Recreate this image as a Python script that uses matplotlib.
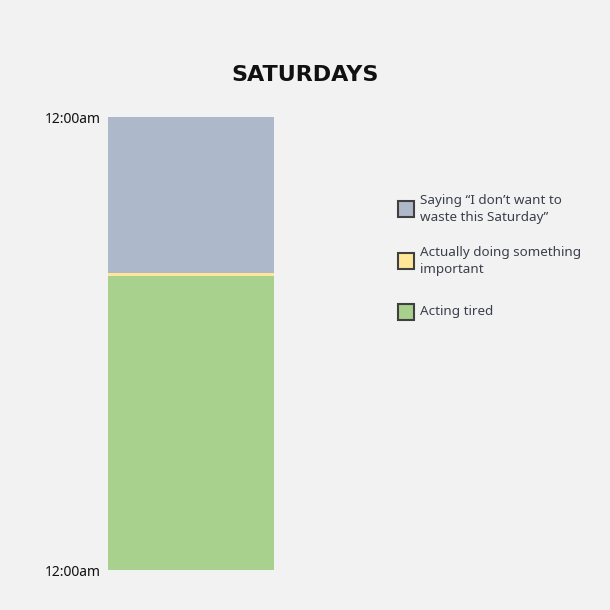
import matplotlib.pyplot as plt
import matplotlib.patches as mpatches

# data: hours of a Saturday, stacked top (midnight) to bottom (midnight)
activities = ['Saying \u201cI don\u2019t want to\nwaste this Saturday\u201d',
              'Actually doing something\nimportant',
              'Acting tired']
hours = [8.25, 0.15, 15.6]
colours = ['#adb8ca', '#ffe699', '#a9d18e']
tick_hours = [0, 24]
tick_labels = ['12:00am', '12:00am']

bg = '#f2f2f2'
txt = '#3b3f4c'
plt.rcParams['font.family'] = ['Noto Sans', 'DejaVu Sans']

fig = plt.figure(figsize=(6.1, 6.1), dpi=100, facecolor=bg)
ax = fig.add_axes([108 / 610, 40 / 610, 166 / 610, 453 / 610])
ax.set_facecolor(bg)

bottom = 0
for h, c in zip(hours, colours):
    ax.bar(0, h, bottom=bottom, width=1, color=c, edgecolor='none')
    bottom += h

ax.set_xlim(-0.5, 0.5)
ax.set_ylim(24, 0)
ax.set_yticks(tick_hours)
ax.set_yticklabels(tick_labels, fontsize=10, color='#111111')
ax.tick_params(axis='y', length=0, pad=5)
ax.set_xticks([])
for s in ax.spines.values():
    s.set_visible(False)

fig.text(0.5, 1 - 75 / 610, 'SATURDAYS', ha='center', va='center',
         fontsize=16, fontweight='bold', color='#111111', family='DejaVu Sans')

# legend drawn by hand
leg_y = [209, 261, 312]
for label, c, y in zip(activities, colours, leg_y):
    fig.patches.append(mpatches.Rectangle((398 / 610, 1 - (y + 8) / 610), 16 / 610, 16 / 610,
                                          facecolor=c, edgecolor='#404040', linewidth=1.5,
                                          transform=fig.transFigure))
    fig.text(420 / 610, 1 - y / 610, label, ha='left', va='center',
             fontsize=9.7, color=txt, linespacing=1.4)

fig.savefig('out.png', dpi=100, facecolor=bg)
